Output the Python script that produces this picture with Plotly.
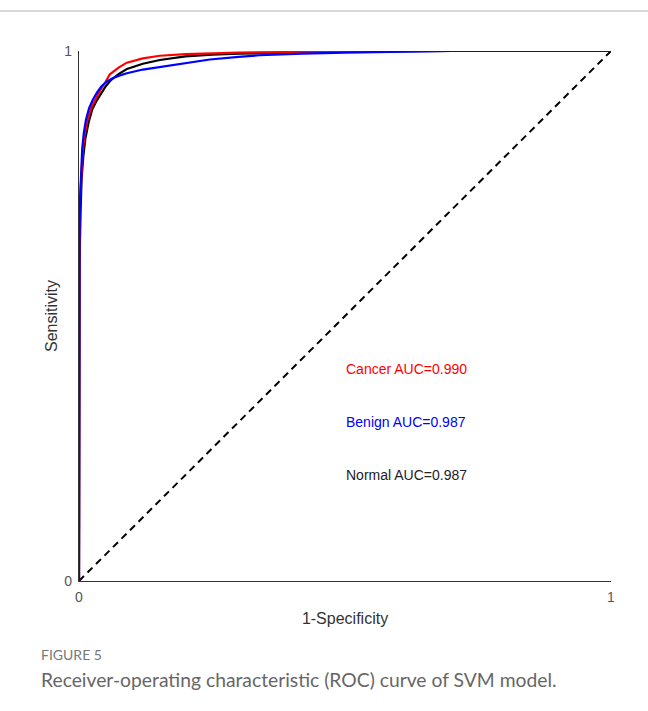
import plotly.graph_objects as go

# ROC data
cancer_fpr = [0, 0, 0.001, 0.002, 0.004, 0.007, 0.011, 0.016, 0.024, 0.032, 0.040, 0.050, 0.058, 0.075, 0.09, 0.12, 0.152, 0.2, 0.25, 0.3, 0.4, 0.5, 0.6, 0.8, 1.0]
cancer_tpr = [0, 0.45, 0.62, 0.72, 0.77, 0.81, 0.845, 0.87, 0.895, 0.912, 0.926, 0.942, 0.956, 0.969, 0.978, 0.986, 0.991, 0.994, 0.996, 0.997, 0.998, 0.999, 1.0, 1.0, 1.0]

normal_fpr = [0, 0, 0.001, 0.003, 0.005, 0.008, 0.012, 0.018, 0.025, 0.033, 0.042, 0.050, 0.060, 0.075, 0.09, 0.12, 0.152, 0.2, 0.25, 0.3, 0.4, 0.5, 0.7, 1.0]
normal_tpr = [0, 0.42, 0.6, 0.7, 0.76, 0.80, 0.835, 0.865, 0.89, 0.906, 0.92, 0.933, 0.945, 0.957, 0.966, 0.976, 0.983, 0.990, 0.993, 0.995, 0.997, 0.999, 1.0, 1.0]

benign_fpr = [0, 0, 0.001, 0.002, 0.004, 0.006, 0.009, 0.013, 0.019, 0.026, 0.034, 0.042, 0.052, 0.064, 0.077, 0.09, 0.12, 0.152, 0.2, 0.246, 0.3, 0.34, 0.42, 0.5, 0.7, 1.0]
benign_tpr = [0, 0.5, 0.64, 0.72, 0.78, 0.815, 0.845, 0.87, 0.892, 0.908, 0.922, 0.933, 0.942, 0.949, 0.954, 0.958, 0.965, 0.970, 0.978, 0.984, 0.989, 0.992, 0.995, 0.997, 1.0, 1.0]

diag = [0, 1]

labels = ["Cancer AUC=0.990", "Benign AUC=0.987", "Normal AUC=0.987"]
label_y = [0.4, 0.3, 0.2]
label_colors = ["#ff0000", "#0000ff", "#222222"]

fig = go.Figure()
fig.add_trace(go.Scatter(x=diag, y=diag, mode="lines", cliponaxis=False,
                         line=dict(color="black", width=2, dash="7px,5px")))
fig.add_trace(go.Scatter(x=normal_fpr, y=normal_tpr, mode="lines", cliponaxis=False,
                         line=dict(color="black", width=2.2)))
fig.add_trace(go.Scatter(x=cancer_fpr, y=cancer_tpr, mode="lines", cliponaxis=False,
                         line=dict(color="#ff0000", width=2.2)))
fig.add_trace(go.Scatter(x=benign_fpr, y=benign_tpr, mode="lines", cliponaxis=False,
                         line=dict(color="#0000ff", width=2.2)))

for t, yy, c in zip(labels, label_y, label_colors):
    fig.add_annotation(x=0.4975, y=yy, xref="x", yref="y", text=t, showarrow=False,
                       xanchor="left", yanchor="middle",
                       font=dict(family="Liberation Sans, Arial", size=14, color=c))

# frame lines of the page
fig.add_shape(type="line", xref="paper", yref="paper", x0=-0.1535, x1=1.1, y0=1.0755, y1=1.0755,
              line=dict(color="#cccccc", width=1.5))
fig.add_shape(type="line", xref="paper", yref="paper", x0=-0.1535, x1=-0.1535, y0=-0.25, y1=1.0755,
              line=dict(color="#cccccc", width=1.5))

fig.add_annotation(xref="paper", yref="paper", x=-0.075, y=-0.1395, xanchor="left", yanchor="middle",
                   text="FIGURE 5", showarrow=False,
                   font=dict(family="Lato, Open Sans", size=14, color="#777777"))
fig.add_annotation(xref="paper", yref="paper", x=-0.075, y=-0.1855, xanchor="left", yanchor="middle",
                   text="Receiver-operating characteristic (ROC) curve of SVM model.", showarrow=False,
                   font=dict(family="Lato, Open Sans", size=19.3, color="#666666"))

axis_common = dict(range=[0, 1], tickvals=[0, 1], ticktext=["0", "1"], showgrid=False, zeroline=False,
                   showline=True, linecolor="#333333", linewidth=1.3, ticks="inside", ticklen=6,
                   tickcolor="#333333", tickwidth=1.3, ticklabelstandoff=3,
                   tickfont=dict(family="Liberation Sans, Arial", size=14, color="#555555"))

fig.update_layout(
    width=648, height=711,
    margin=dict(l=79, r=37, t=51, b=130),
    paper_bgcolor="white", plot_bgcolor="white",
    showlegend=False,
    xaxis=dict(title=dict(text="1-Specificity", standoff=8,
                          font=dict(family="Liberation Sans, Arial", size=16, color="#333333")),
               **axis_common),
    yaxis=dict(title=dict(text="Sensitivity", standoff=2,
                          font=dict(family="Liberation Sans, Arial", size=16, color="#333333")),
               **axis_common),
)

fig.write_html("out.html")
